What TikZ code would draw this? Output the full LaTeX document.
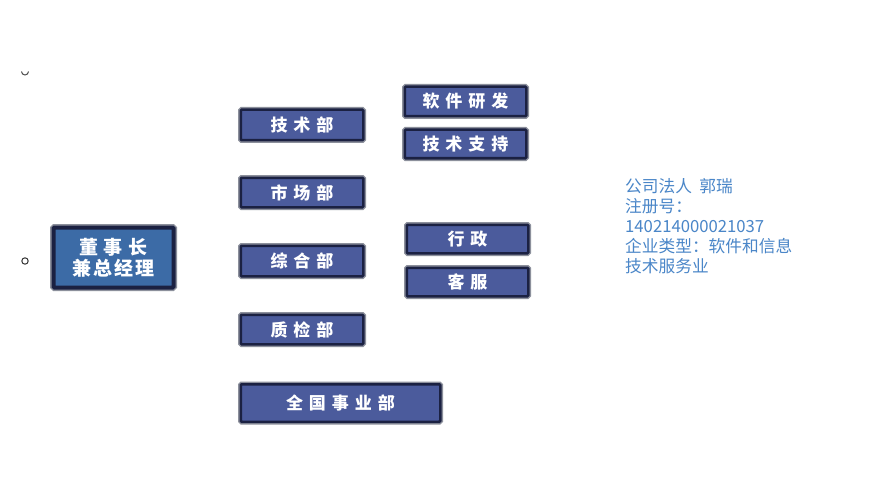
\documentclass[tikz,border=0pt]{standalone}
\usepackage{fontspec}
\newfontfamily\cjk{Noto Sans CJK SC}
\newcommand\cg{\hspace{6pt}}
\newcommand\cgs{\hspace{2pt}}
\definecolor{boxfill}{HTML}{4B5B9C}
\definecolor{boxframe}{HTML}{1B2142}
\definecolor{boxrim}{HTML}{8C909C}
\definecolor{ceofill}{HTML}{3C6BA6}
\definecolor{infotext}{HTML}{4A86C8}
\tikzset{
  dept/.style={preaction={draw=boxrim,line width=5.5pt,rounded corners=2pt},
    draw=boxframe,line width=2.5pt,fill=boxfill,rounded corners=1pt,
    inner sep=0pt,text=white,font=\cjk\bfseries\fontsize{17}{17}\selectfont},
  ceo/.style={dept,fill=ceofill,draw=boxframe,line width=4pt,
    preaction={draw=boxrim,line width=7pt,rounded corners=2pt},
    align=center,font=\cjk\bfseries\fontsize{19}{21}\selectfont},
  info/.style={text=infotext,align=left,anchor=north west,inner sep=0pt,
    font=\cjk\fontsize{16.7}{20}\selectfont}
}
\begin{document}
\begin{tikzpicture}[x=1pt,y=-1pt]
\useasboundingbox (0,0) rectangle (886,500);
\fill[white] (0,0) rectangle (886,500);
% small marks at left
\draw[line width=1pt,black!70] (21.5,71.5) arc (180:0:3.5);
\draw[line width=1pt,black!80] (25,261) circle (3.2);
\node[ceo,minimum width=120pt,minimum height=60pt] (ceo) at (113.5,257.5) {董\cg 事\cg 长\\兼\cgs 总\cgs 经\cgs 理};
\node[dept,minimum width=122.5pt,minimum height=30.5pt] (jishu) at (302,125) {技\cg 术\cg 部};
\node[dept,minimum width=122.5pt,minimum height=29.5pt] (shichang) at (302,192.5) {市\cg 场\cg 部};
\node[dept,minimum width=122.5pt,minimum height=30.5pt] (zonghe) at (302,261) {综\cg 合\cg 部};
\node[dept,minimum width=122.5pt,minimum height=29.5pt] (zhijian) at (302,329.5) {质\cg 检\cg 部};
\node[dept,minimum width=199.5pt,minimum height=37.5pt] (quanguo) at (340.5,403) {全\cg 国\cg 事\cg 业\cg 部};
\node[dept,minimum width=121.5pt,minimum height=29.5pt] (ruanjian) at (465.5,101.5) {软\cg 件\cg 研\cg 发};
\node[dept,minimum width=121.5pt,minimum height=28.5pt] (zhichi) at (465.5,144) {技\cg 术\cg 支\cg 持};
\node[dept,minimum width=121.5pt,minimum height=28.5pt] (xingzheng) at (467.5,239) {行\cg 政};
\node[dept,minimum width=121.5pt,minimum height=28.5pt] (kefu) at (467.5,282) {客\cg 服};
\node[info] (info) at (625,178) {公司法人\ \ 郭瑞\\注册号：\\140214000021037\\企业类型：软件和信息\\技术服务业};
\end{tikzpicture}
\end{document}
